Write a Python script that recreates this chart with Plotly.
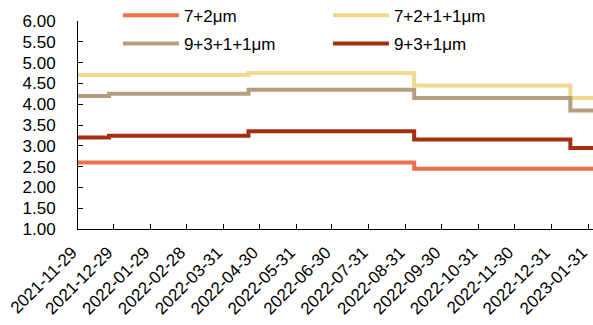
import plotly.graph_objects as go

# Step breakpoints (dates) and price values per series
dates = ["2021-11-29", "2021-12-25", "2022-04-21", "2022-09-07", "2023-01-16", "2023-02-04"]
s_7_2 = [2.60, 2.60, 2.60, 2.45, 2.45, 2.45]
s_7_2_1_1 = [4.70, 4.70, 4.75, 4.45, 4.15, 4.15]
s_9_3_1_1 = [4.20, 4.25, 4.35, 4.15, 3.85, 3.85]
s_9_3_1 = [3.20, 3.24, 3.35, 3.15, 2.95, 2.95]

names = ["7+2μm", "7+2+1+1μm", "9+3+1+1μm", "9+3+1μm"]
colors = ["#F0704A", "#F0D98C", "#B59E7D", "#A52F12"]
legend_ids = ["legend", "legend", "legend2", "legend2"]

tick_dates = ["2021-11-29", "2021-12-29", "2022-01-29", "2022-02-28", "2022-03-31",
              "2022-04-30", "2022-05-31", "2022-06-30", "2022-07-31", "2022-08-31",
              "2022-09-30", "2022-10-31", "2022-11-30", "2022-12-31", "2023-01-31"]
y_ticks = [1.0, 1.5, 2.0, 2.5, 3.0, 3.5, 4.0, 4.5, 5.0, 5.5, 6.0]

FONT = "Liberation Sans, Arial, sans-serif"

fig = go.Figure()
for name, ys, c, lg in zip(names, [s_7_2, s_7_2_1_1, s_9_3_1_1, s_9_3_1], colors, legend_ids):
    fig.add_trace(go.Scatter(x=dates, y=ys, mode="lines", name=name,
                             line=dict(color=c, width=4, shape="hv"),
                             legend=lg))

fig.update_layout(
    width=593, height=325,
    margin=dict(l=78, r=0, t=21, b=96, autoexpand=False),
    paper_bgcolor="white", plot_bgcolor="white",
    font=dict(family=FONT, size=17, color="#000000"),
    showlegend=True,
    legend=dict(orientation="h", x=0.0775, y=1.025, xanchor="left", yanchor="middle",
                entrywidth=139, entrywidthmode="pixels", itemwidth=56,
                bgcolor="rgba(0,0,0,0)", font=dict(family=FONT, size=17)),
    legend2=dict(orientation="h", x=0.0775, y=0.89, xanchor="left", yanchor="middle",
                 entrywidth=139, entrywidthmode="pixels", itemwidth=56,
                 bgcolor="rgba(0,0,0,0)", font=dict(family=FONT, size=17)),
)
fig.update_xaxes(type="date", range=["2021-11-29", "2023-02-04"],
                 tickvals=tick_dates, ticktext=tick_dates, tickangle=-45,
                 ticks="inside", ticklen=5, tickcolor="#000", showgrid=False,
                 showline=True, linecolor="#000", linewidth=1, zeroline=False,
                 automargin=False, ticklabelstandoff=6, ticklabelshift=-6,
                 ticklabeloverflow="allow",
                 tickfont=dict(family=FONT, size=17))
fig.update_yaxes(range=[1, 6], tickvals=y_ticks, tickformat=".2f",
                 ticks="inside", ticklen=5, tickcolor="#000", showgrid=False,
                 showline=True, linecolor="#000", linewidth=1, zeroline=False,
                 automargin=False, ticklabelstandoff=18,
                 tickfont=dict(family=FONT, size=17))

fig.write_html("out.html", config={"displayModeBar": False},
               post_script="document.body.style.margin='0px';document.body.style.overflow='hidden';")
